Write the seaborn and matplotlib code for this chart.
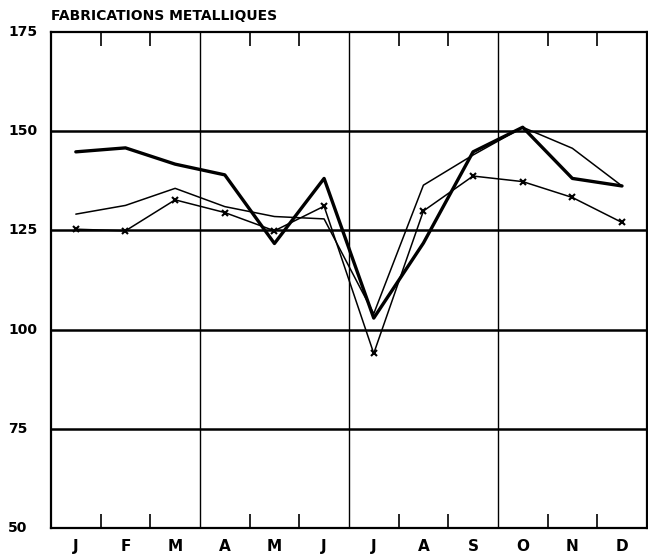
import numpy as np
import pandas as pd
import matplotlib
matplotlib.use("Agg")
import matplotlib.pyplot as plt
import seaborn as sns

# Monthly index values
months = ["J", "F", "M", "A", "M", "J", "J", "A", "S", "O", "N", "D"]
serie_epaisse = [144.8, 145.8, 141.7, 139.0, 121.7, 138.1, 102.9, 121.8, 144.8, 151.0, 138.1, 136.2]
serie_fine = [129.1, 131.3, 135.6, 131.0, 128.5, 127.9, 104.0, 136.4, 144.0, 151.0, 145.7, 136.2]
serie_croix = [125.3, 124.9, 132.7, 129.5, 124.9, 131.1, 94.0, 129.9, 138.7, 137.3, 133.3, 127.0]
y_ticks = [50, 75, 100, 125, 150, 175]

pos = np.arange(len(months)) + 0.5
df = pd.DataFrame({"pos": pos, "epaisse": serie_epaisse,
                   "fine": serie_fine, "croix": serie_croix})

sns.set_style("white")
plt.rcParams["font.family"] = ["DejaVu Sans", "Noto Sans"]
plt.rcParams["text.color"] = "black"

fig = plt.figure(figsize=(6.48, 5.56), dpi=100)
ax = fig.add_axes([0.0787, 0.0504, 0.9195, 0.892])

# grid: heavy horizontals, thin quarter separators
for v in [75, 100, 125, 150]:
    ax.axhline(v, color="black", lw=1.8, zorder=1)
for q in [3, 6, 9]:
    ax.axvline(q, color="black", lw=1.0, zorder=1)

sns.lineplot(data=df, x="pos", y="fine", color="black", lw=1.1, ax=ax, zorder=3)
sns.lineplot(data=df, x="pos", y="croix", color="black", lw=1.1, marker="x",
             markersize=5, markeredgewidth=1.5, markeredgecolor="black",
             ax=ax, zorder=3)
sns.lineplot(data=df, x="pos", y="epaisse", color="black", lw=2.4, ax=ax, zorder=4)

ax.set_xlim(0, 12)
ax.set_ylim(50, 175)
ax.set_xlabel("")
ax.set_ylabel("")

# month boundary ticks inside, top and bottom
minor = [b for b in range(1, 12) if b % 3 != 0]
ax.set_xticks(minor)
ax.set_xticklabels([])
ax.tick_params(axis="x", direction="in", length=10, width=1.2, color="black",
               top=True, bottom=True)
for p, m in zip(pos, months):
    ax.text(p, 47.3, m, ha="center", va="top", fontsize=11, fontweight="bold",
            color="black")

ax.set_yticks(y_ticks)
ax.set_yticklabels([])
ax.tick_params(axis="y", length=0)
for v in y_ticks:
    ax.text(-0.072, v, str(v), ha="left", va="center", fontsize=10,
            fontweight="bold", color="black", transform=ax.get_yaxis_transform())

for s in ax.spines.values():
    s.set_color("black")
    s.set_linewidth(1.6)

fig.text(0.0787, 0.971, "FABRICATIONS METALLIQUES",
         ha="left", va="center", fontsize=10, fontweight="bold", color="black")

fig.savefig("out.png", dpi=100)
